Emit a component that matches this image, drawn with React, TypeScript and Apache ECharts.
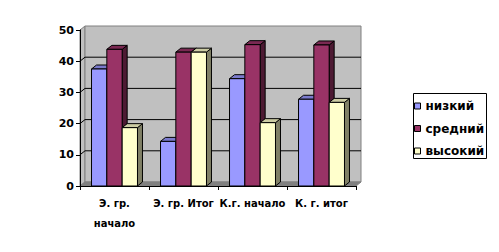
import React, { useEffect, useRef } from "react";
import * as echarts from "echarts";

const categories = ["Э. гр. начало", "Э. гр. Итог", "К.г. начало", "К. г. итог"];
const seriesNames = ["низкий", "средний", "высокий"];
const lowValues = [37.5, 14.3, 34.4, 27.8];
const midValues = [43.8, 42.9, 45.3, 45.2];
const highValues = [18.7, 42.9, 20.3, 26.8];
const yTicks = [0, 10, 20, 30, 40, 50];

const FONT = "DejaVu Sans";
const AXIS_FONT_SIZE = 10;
const DX = 5;
const DY = 4;

const palettes = [
  { front: "#9999FF", top: "#7A7ACC", side: "#5C5C99" },
  { front: "#993366", top: "#7A2952", side: "#4D1A33" },
  { front: "#FFFFCC", top: "#CCCCA3", side: "#808066" },
];

let measureCtx: CanvasRenderingContext2D | null = null;
function textWidth(t: string, font: string) {
  if (!measureCtx) measureCtx = document.createElement("canvas").getContext("2d");
  if (!measureCtx) return t.length * 6;
  measureCtx.font = font;
  return measureCtx.measureText(t).width;
}
function wrapLabel(t: string, maxW: number) {
  const font = `bold ${AXIS_FONT_SIZE}px "${FONT}"`;
  if (textWidth(t, font) <= maxW) return t;
  const words = t.split(" ");
  const lines: string[] = [];
  let cur = "";
  words.forEach((w) => {
    const cand = cur ? cur + " " + w : w;
    if (cur && textWidth(cand, font) > maxW) {
      lines.push(cur);
      cur = w;
    } else cur = cand;
  });
  if (cur) lines.push(cur);
  return lines.join("\n");
}

function barRender(k: number) {
  const pal = palettes[k];
  return (params: any, api: any) => {
    const idx = api.value(0);
    const val = api.value(1);
    const top = api.coord([idx, val]);
    const base = api.coord([idx, 0]);
    const bw = api.size([1, 0])[0];
    const w = bw * 0.222;
    const x = top[0] - 1.5 * w + k * w;
    const y = top[1];
    const y0 = base[1];
    return {
      type: "group",
      children: [
        {
          type: "polygon",
          shape: { points: [[x + w, y], [x + w + DX, y - DY], [x + w + DX, y0 - DY], [x + w, y0]] },
          style: { fill: pal.side, stroke: "#000", lineWidth: 1 },
        },
        {
          type: "polygon",
          shape: { points: [[x, y], [x + DX, y - DY], [x + w + DX, y - DY], [x + w, y]] },
          style: { fill: pal.top, stroke: "#000", lineWidth: 1 },
        },
        {
          type: "rect",
          shape: { x, y, width: w, height: y0 - y },
          style: { fill: pal.front, stroke: "#000", lineWidth: 1 },
        },
      ],
    };
  };
}

function wallRender(params: any, api: any) {
  const c0 = api.coord([0, 0]);
  const bw = api.size([1, 0])[0];
  const xl = c0[0] - bw / 2;
  const xr = api.coord([categories.length - 1, 0])[0] + bw / 2;
  const y0 = c0[1];
  const ymax = api.coord([0, yTicks[yTicks.length - 1]])[1];
  const children: any[] = [
    {
      type: "polygon",
      shape: { points: [[xl, y0], [xl, ymax], [xl + DX, ymax - DY], [xl + DX, y0 - DY]] },
      style: { fill: "#C0C0C0", stroke: "#808080", lineWidth: 1 },
    },
    {
      type: "rect",
      shape: { x: xl + DX, y: ymax - DY, width: xr - xl, height: y0 - ymax },
      style: { fill: "#C0C0C0", stroke: "#808080", lineWidth: 1 },
    },
    {
      type: "polygon",
      shape: { points: [[xl, y0], [xr, y0], [xr + DX, y0 - DY], [xl + DX, y0 - DY]] },
      style: { fill: "#808080", stroke: "#808080", lineWidth: 1 },
    },
  ];
  yTicks.slice(1, -1).forEach((v) => {
    const yv = api.coord([0, v])[1];
    children.push({
      type: "polyline",
      shape: { points: [[xl, yv], [xl + DX, yv - DY], [xr + DX, yv - DY]] },
      style: { stroke: "#000", lineWidth: 1, fill: null },
    });
  });
  return { type: "group", children };
}

export default function App() {
  const ref = useRef<HTMLDivElement>(null);
  useEffect(() => {
    if (!ref.current) return;
    const chart = echarts.init(ref.current, null, { renderer: "svg" });
    const valueSets = [lowValues, midValues, highValues];
    chart.setOption({
      animation: false,
      backgroundColor: "#fff",
      grid: { left: 80, right: 143, top: 30, bottom: 66, containLabel: false },
      xAxis: {
        type: "category",
        data: categories,
        boundaryGap: true,
        z: 10,
        axisLine: { show: true, lineStyle: { color: "#000", width: 1 } },
        axisTick: { show: true, length: 4, lineStyle: { color: "#000" } },
        axisLabel: {
          interval: 0,
          color: "#000",
          fontFamily: FONT,
          fontSize: AXIS_FONT_SIZE,
          fontWeight: "bold",
          margin: 7,
          lineHeight: 20,
          formatter: (v: string) => wrapLabel(v, 69),
        },
      },
      yAxis: {
        type: "value",
        min: 0,
        max: 50,
        interval: 10,
        z: 10,
        axisLine: { show: true, lineStyle: { color: "#000", width: 1 } },
        axisTick: { show: true, length: 4, lineStyle: { color: "#000" } },
        splitLine: { show: false },
        axisLabel: { color: "#000", fontFamily: FONT, fontSize: 11, fontWeight: "bold", margin: 6 },
      },
      legend: {
        orient: "vertical",
        left: 414,
        top: 99,
        padding: 0,
        itemWidth: 6,
        itemHeight: 6,
        itemGap: 8.5,
        icon: "rect",
        textStyle: { color: "#000", fontFamily: FONT, fontSize: 12, fontWeight: "bold", lineHeight: 14 },
        data: seriesNames.map((n, k) => ({
          name: n,
          itemStyle: { color: palettes[k].front, borderColor: "#000", borderWidth: 1 },
        })),
      },
      graphic: [
        {
          type: "rect",
          left: 413,
          top: 93,
          z: -1,
          shape: { width: 73, height: 65 },
          style: { fill: "#fff", stroke: "#000", lineWidth: 1 },
        },
      ],
      series: [
        {
          type: "custom",
          name: "wall",
          silent: true,
          renderItem: wallRender,
          data: [[0, 0]],
          encode: { x: 0, y: 1 },
          z: 1,
        },
        ...seriesNames.map((n, k) => ({
          type: "custom",
          name: n,
          renderItem: barRender(k),
          itemStyle: { color: palettes[k].front },
          data: categories.map((c, i) => [i, valueSets[k][i]]),
          encode: { x: 0, y: 1 },
          z: 2 + k,
        })),
      ],
    });
    return () => chart.dispose();
  }, []);
  return <div ref={ref} style={{ position: "fixed", left: 0, top: 0, width: 499, height: 252 }} />;
}
